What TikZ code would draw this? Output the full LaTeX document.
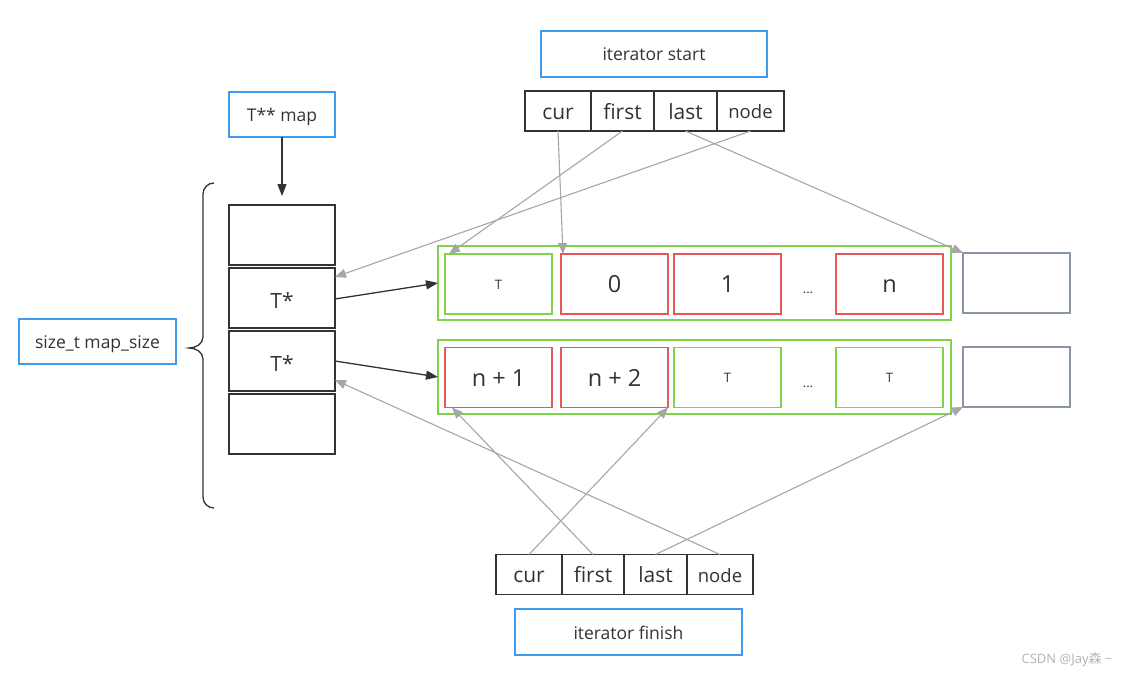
\documentclass[tikz,border=0pt]{standalone}
\usepackage{fontspec}
\setmainfont{Open Sans}
\newfontfamily\cjkfont{Noto Sans CJK SC}
\usetikzlibrary{arrows.meta,calc}
\definecolor{cblue}{HTML}{3D9BF0}
\definecolor{cred}{HTML}{E8585A}
\definecolor{cgreen}{HTML}{7ED348}
\definecolor{cdark}{HTML}{333333}
\definecolor{cgray}{HTML}{A6A6A6}
\definecolor{cslate}{HTML}{8A96A3}
\begin{document}
\begin{tikzpicture}[x=1pt,y=-1pt,
  every node/.style={inner sep=0pt, outer sep=0pt, text=cdark},
  bluebox/.style={draw=cblue, line width=1.3pt, fill=white},
  darkbox/.style={draw=cdark, line width=1.3pt},
  redbox/.style={draw=cred, line width=1.3pt, minimum width=107pt, minimum height=60pt},
  greenbox/.style={draw=cgreen, line width=1.3pt, minimum width=107pt, minimum height=60pt},
  outerbox/.style={draw=cgreen, line width=1.3pt, minimum width=513pt, minimum height=74pt},
  slatebox/.style={draw=cslate, line width=1.3pt, minimum width=107pt, minimum height=60pt},
  mapbox/.style={darkbox, minimum width=106pt, minimum height=60pt, font=\fontsize{21}{25}\selectfont, text height=20pt, text depth=0pt},
  cell/.style={darkbox, minimum height=40pt, font=\fontsize{21}{25}\selectfont, text height=16.8pt, text depth=0pt},
  nodecell/.style={cell, font=\fontsize{18.5}{22}\selectfont, text height=15pt},
  ptr/.style={draw=cgray, line width=1.1pt, -{Triangle[length=11pt,width=9pt]}},
  blk/.style={draw=cdark, line width=1.3pt, -{Triangle[length=12pt,width=9pt]}},
  big/.style={font=\fontsize{23.5}{28}\selectfont, text height=17.5pt, text depth=0pt},
  small/.style={font=\fontsize{13}{15}\selectfont, text height=10.4pt, text depth=0pt},
  label/.style={font=\fontsize{17.5}{21}\selectfont, text height=14pt, text depth=0pt}
]
\useasboundingbox (0,0) rectangle (1133,677);
\fill[white] (0,0) rectangle (1133,677);

% top iterator
\node[bluebox, label, minimum width=226pt, minimum height=46pt] (istart) at (654,54) {iterator start};
\node[cell, minimum width=66pt] (scur) at (558,111) {cur};
\node[cell, minimum width=63pt] (sfirst) at (622.5,111) {first};
\node[cell, minimum width=63pt] (slast) at (685.5,111) {last};
\node[nodecell, minimum width=67pt] (snode) at (750.5,111) {node};

% map
\node[bluebox, label, minimum width=106pt, minimum height=45pt] (tmap) at (282,114.5) {T** map};
\node[mapbox] (m1) at (282,235) {};
\node[mapbox] (m2) at (282,298) {T*};
\node[mapbox] (m3) at (282,361) {T*};
\node[mapbox] (m4) at (282,424) {};
\node[bluebox, label, minimum width=157pt, minimum height=45pt] (msize) at (97.5,341.5) {size\_t map\_size};

% brace
\draw[cdark, line width=1.3pt] (214,183) to[out=180,in=90] (203,194) -- (203,337) to[out=-90,in=0] (189,348)
  to[out=0,in=90] (203,359) -- (203,497) to[out=-90,in=180] (214,508);

% row 1
\node[outerbox] (row1) at (694.5,283) {};
\node[greenbox, small] (a1) at (498.5,284) {T};
\node[redbox, big] (a2) at (614.5,284) {0};
\node[redbox, big] (a3) at (727.5,284) {1};
\node[small] (a4) at (808,288) {...};
\node[redbox, big] (a5) at (889.5,284) {n};
\node[slatebox] (g1) at (1016.5,283) {};

% row 2
\node[outerbox] (row2) at (694.5,377) {};
\node[redbox, big] (b1) at (498.5,377.5) {n + 1};
\node[redbox, big] (b2) at (614.5,377.5) {n + 2};
\node[greenbox, small] (b3) at (727.5,377.5) {T};
\node[small] (b4) at (808,382) {...};
\node[greenbox, small] (b5) at (889.5,377.5) {T};
\node[slatebox] (g2) at (1016.5,377) {};

% bottom iterator
\node[cell, minimum width=66pt] (fcur) at (529,574.5) {cur};
\node[cell, minimum width=62pt] (ffirst) at (593,574.5) {first};
\node[cell, minimum width=63pt] (flast) at (655.5,574.5) {last};
\node[nodecell, minimum width=66pt] (fnode) at (720,574.5) {node};
\node[bluebox, label, minimum width=227pt, minimum height=46pt] (ifinish) at (628.5,632) {iterator finish};

% black arrows
\draw[blk] (tmap.south) -- ([yshift=9pt]m1.north);
\draw[blk] ([yshift=-1pt]m2.east) -- (row1.west);
\draw[blk] (m3.east) -- (row2.west);

% gray pointer arrows (top)
\draw[ptr] (scur.south) -- ([xshift=2pt]a2.north west);
\draw[ptr] (sfirst.south) -- ([xshift=4pt]a1.north west);
\draw[ptr] (snode.south) -- ([yshift=-9pt]m2.north east);
\draw[ptr] (slast.south) -- (g1.north west);

% gray pointer arrows (bottom)
\draw[ptr] (fcur.north) -- (b2.south east);
\draw[ptr] (ffirst.north) -- ([xshift=7pt]b1.south west);
\draw[ptr] (flast.north) -- (g2.south west);
\draw[ptr] (fnode.north) -- ([yshift=11pt]m3.south east);

% watermark
\node[text=cgray!85, font=\fontsize{13}{15}\selectfont] (wm) at (1067,660) {CSDN @Jay{\cjkfont 森}~\textasciitilde};
\end{tikzpicture}
\end{document}
